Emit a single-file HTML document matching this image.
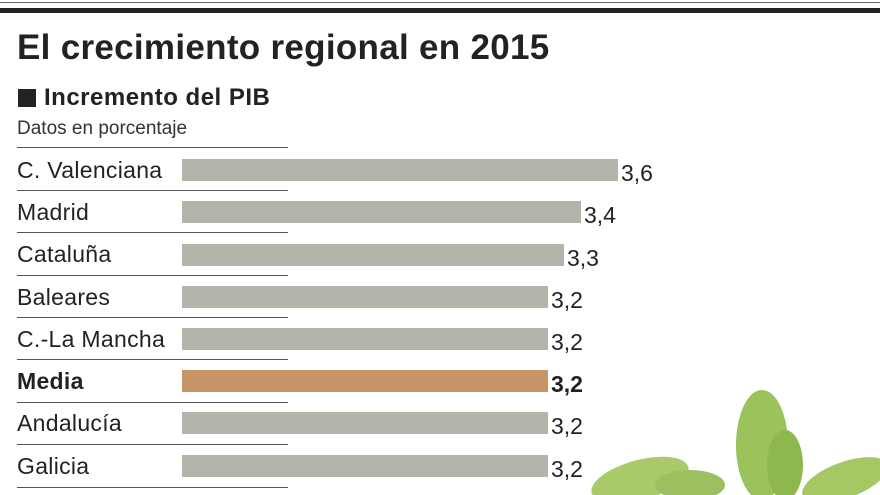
<!DOCTYPE html><html><head><meta charset="utf-8"><style>
body{margin:0;width:880px;height:495px;background:#fff;position:relative;overflow:hidden;font-family:"Liberation Sans",sans-serif;color:#222}
.a{position:absolute}
.l{left:17px;font-size:23px;white-space:nowrap;letter-spacing:0.3px}
.bar{position:absolute;left:182px;height:22px;background:#b3b5aa}
.v{font-size:23px}
.sep{position:absolute;left:17px;width:271px;height:1px;background:#555}
</style></head><body>
<div class="a" style="left:0;top:2px;width:880px;height:1px;background:#666"></div>
<div class="a" style="left:0;top:8px;width:880px;height:5px;background:#222"></div>
<div class="a" style="left:17px;top:28px;font-size:35px;font-weight:bold;letter-spacing:0.3px">El crecimiento regional en 2015</div>
<div class="a" style="left:18px;top:89px;width:18px;height:18px;background:#222"></div>
<div class="a" style="left:44px;top:84px;font-size:24px;font-weight:bold;letter-spacing:0.5px">Incremento del PIB</div>
<div class="a" style="left:17px;top:118px;font-size:19px;color:#333">Datos en porcentaje</div>
<div class="sep" style="top:147px"></div>
<div class="sep" style="top:190px"></div>
<div class="sep" style="top:232px"></div>
<div class="sep" style="top:275px"></div>
<div class="sep" style="top:317px"></div>
<div class="sep" style="top:359px"></div>
<div class="sep" style="top:402px"></div>
<div class="sep" style="top:444px"></div>
<div class="sep" style="top:487px"></div>

<div class="a l" style="top:157px">C. Valenciana</div><div class="bar" style="top:159px;width:436px"></div><div class="a v" style="left:621px;top:160px">3,6</div>
<div class="a l" style="top:199px">Madrid</div><div class="bar" style="top:201px;width:399px"></div><div class="a v" style="left:584px;top:202px">3,4</div>
<div class="a l" style="top:241px">Cataluña</div><div class="bar" style="top:244px;width:382px"></div><div class="a v" style="left:567px;top:245px">3,3</div>
<div class="a l" style="top:284px">Baleares</div><div class="bar" style="top:286px;width:366px"></div><div class="a v" style="left:551px;top:287px">3,2</div>
<div class="a l" style="top:326px">C.-La Mancha</div><div class="bar" style="top:328px;width:366px"></div><div class="a v" style="left:551px;top:329px">3,2</div>
<div class="a l" style="top:368px;font-weight:bold">Media</div><div class="bar" style="top:370px;width:366px;background:#c79466"></div><div class="a v" style="left:551px;top:371px;font-weight:bold">3,2</div>
<div class="a l" style="top:410px">Andalucía</div><div class="bar" style="top:412px;width:366px"></div><div class="a v" style="left:551px;top:413px">3,2</div>
<div class="a l" style="top:453px">Galicia</div><div class="bar" style="top:455px;width:366px"></div><div class="a v" style="left:551px;top:456px">3,2</div>

<svg class="a" style="left:560px;top:380px" width="320" height="115">
<ellipse cx="80" cy="100" rx="50" ry="20" fill="#a9c96a" transform="rotate(-15 80 100)"/>
<ellipse cx="130" cy="105" rx="35" ry="15" fill="#9cc060"/>
<ellipse cx="202" cy="65" rx="26" ry="55" fill="#9cc25c"/>
<ellipse cx="225" cy="85" rx="18" ry="35" fill="#8db84e"/>
<ellipse cx="285" cy="100" rx="45" ry="18" fill="#a5c865" transform="rotate(-20 285 100)"/>
</svg>
</body></html>
